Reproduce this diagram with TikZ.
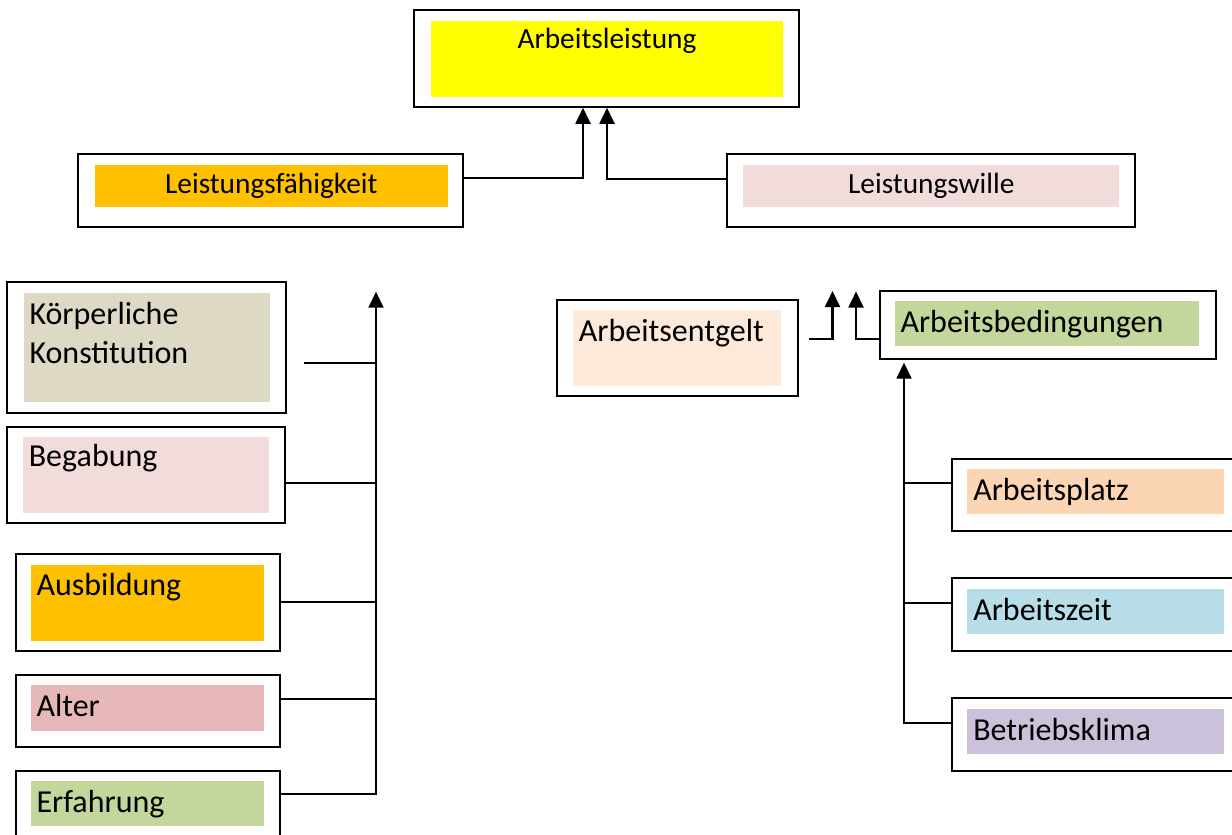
\documentclass[tikz,border=0pt]{standalone}
\usepackage{fontspec}
\setmainfont{Carlito}
\usetikzlibrary{arrows.meta,fit,calc}
\definecolor{cYellow}{HTML}{FFFF00}
\definecolor{cGold}{HTML}{FFC000}
\definecolor{cRose}{HTML}{F2DCDB}
\definecolor{cTan}{HTML}{DDD9C4}
\definecolor{cPeach}{HTML}{FDE9D9}
\definecolor{cOlive}{HTML}{C3D69B}
\definecolor{cRed}{HTML}{E6B9B8}
\definecolor{cApricot}{HTML}{FCD5B5}
\definecolor{cAqua}{HTML}{B7DEE8}
\definecolor{cLilac}{HTML}{CCC1DA}

\begin{document}
\begin{tikzpicture}[x=0.375pt,y=-0.375pt,
  frame/.style={draw=black, line width=0.8pt, inner sep=0pt},
  link/.style={draw=black, line width=0.8pt},
  uparrow/.style={link, -{Triangle[width=5.6pt,length=6pt]}},
  toplabel/.style={anchor=base, font=\fontsize{11}{13.4}\selectfont, inner sep=0pt},
  itemlabel/.style={anchor=base west, font=\fontsize{12}{14.6}\selectfont, inner sep=0pt}]
\useasboundingbox (0,0) rectangle (1232,834);
\clip (0,0) rectangle (1232,834);

% ---- top level ----
\node[frame, fit={(414.3,10.3)(799,106.7)}] (AL) {};
\fill[cYellow] (431,21) rectangle (782.7,96.7);
\node[toplabel] at (607,48.3) {Arbeitsleistung};

\node[frame, fit={(78.3,154.3)(463.3,226.7)}] (LF) {};
\fill[cGold] (95,165) rectangle (447.7,206.7);
\node[toplabel] at (271.3,193.3) {Leistungsfähigkeit};

\node[frame, fit={(726.7,154.3)(1135,226.7)}] (LW) {};
\fill[cRose] (743.3,165) rectangle (1119.3,206.7);
\node[toplabel] at (931.3,193.3) {Leistungswille};

\draw[uparrow] (LF.east |- 0,178.3) -| (583,0 |- AL.south);
\draw[uparrow] (LW.west |- 0,179) -| (607,0 |- AL.south);

% ---- left column ----
\node[frame, fit={(7.3,282.3)(286,412.7)}] (KK) {};
\fill[cTan] (24,293.3) rectangle (270,401.7);
\node[itemlabel] at (29,324.3) {Körperliche};
\node[itemlabel] at (29,363.3) {Konstitution};

\node[frame, fit={(6.7,426.7)(285.3,522.7)}] (BG) {};
\fill[cRose] (23,436.7) rectangle (269,512.7);
\node[itemlabel] at (28.3,466.7) {Begabung};

\node[frame, fit={(15.7,554.3)(280,650.7)}] (AU) {};
\fill[cGold] (31.3,565) rectangle (263.7,640.7);
\node[itemlabel] at (36,595) {Ausbildung};

\node[frame, fit={(15.7,674.7)(280,747)}] (AT) {};
\fill[cRed] (31.3,685) rectangle (263.7,730.7);
\node[itemlabel] at (36,716) {Alter};

\node[frame, fit={(15.7,770.7)(280,850)}] (ER) {};
\fill[cOlive] (31.3,781) rectangle (263.7,826.3);
\node[itemlabel] at (36,812.3) {Erfahrung};

\coordinate (lftop) at (376,291.7);
\coordinate (kkend) at ($(KK.east)+(17,0)$);
\draw[uparrow] (ER.east |- 0,794.3) -| (lftop);
\draw[link] (kkend |- 0,362.7) -- (lftop |- 0,362.7);
\draw[link] (BG.east |- 0,482.7) -- (lftop |- 0,482.7);
\draw[link] (AU.east |- 0,602.3) -- (lftop |- 0,602.3);
\draw[link] (AT.east |- 0,699) -- (lftop |- 0,699);

% ---- right column ----
\node[frame, fit={(557.3,300)(797.7,395.7)}] (AE) {};
\fill[cPeach] (572.7,310) rectangle (781,385.7);
\node[itemlabel] at (578.3,341) {Arbeitsentgelt};

\node[frame, fit={(880,290.7)(1216,359.3)}] (AB) {};
\fill[cOlive] (895.3,301.3) rectangle (1199.3,346);
\node[itemlabel] at (900,332.3) {Arbeitsbedingungen};

\coordinate (aetop) at (832.5,291);
\coordinate (abtop) at (856,291.5);
\coordinate (aeend) at ($(AE.east)+(10.6,0)$);
\draw[uparrow] (aeend |- 0,339.3) -| (aetop);
\draw[uparrow] (AB.west |- 0,339) -| (abtop);

\node[frame, fit={(951.7,459)(1241,530.7)}] (AP) {};
\fill[cApricot] (967.3,469.3) rectangle (1224.3,514);
\node[itemlabel] at (972.7,500) {Arbeitsplatz};

\node[frame, fit={(951.7,578.3)(1241,650.7)}] (AZ) {};
\fill[cAqua] (967.3,589.3) rectangle (1224.3,634.3);
\node[itemlabel] at (972.7,620) {Arbeitszeit};

\node[frame, fit={(951.7,698.3)(1241,771)}] (BK) {};
\fill[cLilac] (967.3,709.3) rectangle (1224.3,754.3);
\node[itemlabel] at (972.7,740) {Betriebsklima};

\coordinate (rttop) at (904,362.7);
\draw[uparrow] (BK.west |- 0,722.7) -| (rttop);
\draw[link] (AP.west |- 0,482.7) -- (rttop |- 0,482.7);
\draw[link] (AZ.west |- 0,602.7) -- (rttop |- 0,602.7);
\end{tikzpicture}
\end{document}
